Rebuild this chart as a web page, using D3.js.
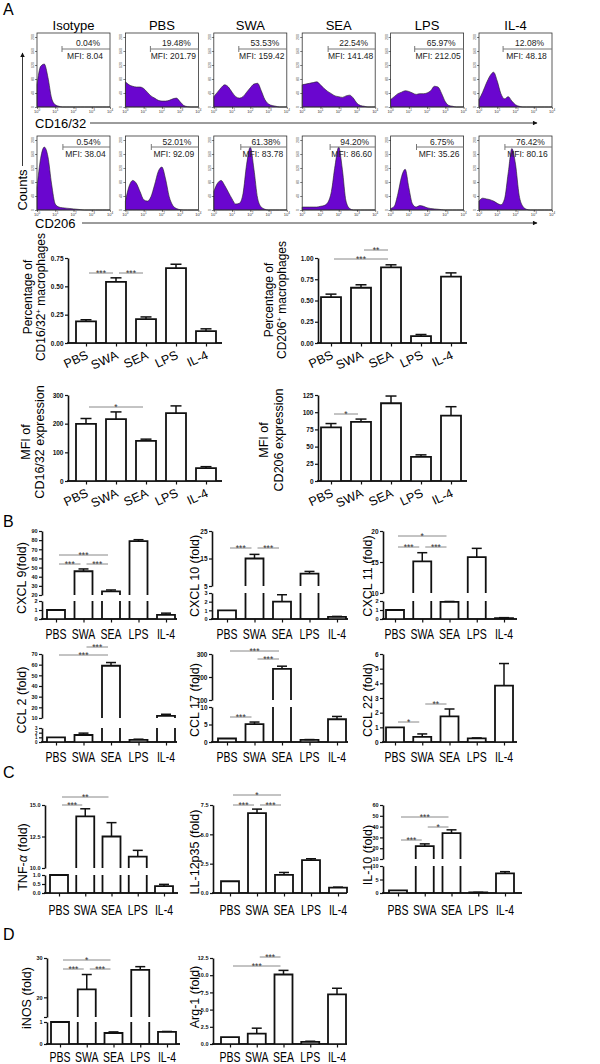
<!DOCTYPE html>
<html><head><meta charset="utf-8">
<script src="https://cdn.jsdelivr.net/npm/d3@7/dist/d3.min.js"></script>
<style>
html,body{margin:0;padding:0;background:#fff}
svg{display:block}
</style></head>
<body>
<svg id="fig" width="600" height="1064"></svg>
<script>
// ================= DATA =================
const groups = ["PBS","SWA","SEA","LPS","IL-4"];
const flowTitles = ["Isotype","PBS","SWA","SEA","LPS","IL-4"];
const cd16Gate = ["0.04%","19.48%","53.53%","22.54%","65.97%","12.08%"];
const cd16MFI  = ["MFI: 8.04","MFI: 201.79","MFI: 159.42","MFI: 141.48","MFI: 212.05","MFI: 48.18"];
const cd206Gate = ["0.54%","52.01%","61.38%","94.20%","6.75%","76.42%"];
const cd206MFI  = ["MFI: 38.04","MFI: 92.09","MFI: 83.78","MFI: 86.60","MFI: 35.26","MFI: 80.16"];
const cd16GateLog  = [1.37,1.37,1.37,1.42,1.32,1.32];
const cd206GateLog = [1.42,1.42,1.48,1.53,1.42,1.42];
const histLogX = [0,0.2,0.4,0.6,0.8,1.0,1.2,1.4,1.6,1.8,2.0,2.2,2.4,2.6,2.8,3.0,3.2,3.4,3.6,3.8,4.0];
const histTickLabels = ["0","1","2","3","4"];
const histYTicks = ["0","40","80","120","160","200"];
const cd16Hist = [
  [0.30,0.55,0.58,0.40,0.12,0.03,0.01,0,0,0,0,0,0,0,0,0,0,0,0,0,0],
  [0.34,0.30,0.28,0.27,0.27,0.25,0.20,0.15,0.12,0.09,0.08,0.08,0.09,0.11,0.12,0.07,0.02,0.005,0,0,0],
  [0.14,0.20,0.26,0.30,0.27,0.20,0.14,0.12,0.14,0.20,0.26,0.31,0.32,0.22,0.10,0.04,0.02,0.01,0,0,0],
  [0.30,0.31,0.32,0.33,0.34,0.30,0.25,0.21,0.18,0.15,0.14,0.13,0.15,0.16,0.12,0.05,0.02,0.01,0,0,0],
  [0.10,0.14,0.18,0.20,0.22,0.21,0.19,0.17,0.18,0.18,0.19,0.22,0.28,0.27,0.18,0.07,0.02,0.01,0,0,0],
  [0.10,0.20,0.32,0.42,0.47,0.35,0.18,0.11,0.14,0.08,0.03,0.01,0,0,0,0,0,0,0,0,0]
];
const cd206Hist = [
  [0.30,0.70,0.85,0.72,0.35,0.08,0.04,0.03,0.025,0.02,0.015,0.01,0.005,0,0,0,0,0,0,0,0],
  [0.12,0.32,0.40,0.36,0.25,0.14,0.12,0.18,0.34,0.52,0.58,0.42,0.18,0.06,0.02,0.005,0,0,0,0,0],
  [0.25,0.36,0.40,0.33,0.24,0.15,0.08,0.09,0.22,0.62,0.85,0.55,0.16,0.04,0.01,0,0,0,0,0,0],
  [0.04,0.04,0.04,0.04,0.04,0.05,0.06,0.10,0.25,0.60,0.85,0.55,0.12,0.02,0,0,0,0,0,0,0],
  [0.02,0.05,0.22,0.45,0.55,0.30,0.08,0.04,0.06,0.05,0.03,0.02,0.015,0.01,0.005,0,0,0,0,0,0],
  [0.12,0.16,0.15,0.14,0.12,0.09,0.07,0.15,0.50,0.83,0.62,0.20,0.05,0.01,0,0,0,0,0,0,0]
];

const cd16PctVal = [0.19,0.54,0.21,0.66,0.105], cd16PctErr = [0.015,0.035,0.02,0.035,0.02];
const cd206PctVal = [0.54,0.65,0.89,0.08,0.78], cd206PctErr = [0.035,0.035,0.03,0.02,0.045];
const cd16MfiVal = [199,216,140,237,45], cd16MfiErr = [19,25,6,25,5];
const cd206MfiVal = [78,86,113,35,95], cd206MfiErr = [5.5,4,10.5,3,13];
const cxcl9Val = [1,46,24,79,0.45], cxcl9Err = [0,2.5,1.5,1.5,0.2];
const cxcl10Val = [1,15,2.0,9.5,0.25], cxcl10Err = [0,1.5,0.8,0.8,0.05];
const cxcl11Val = [1,15.1,1.9,15.8,0.1], cxcl11Err = [0,1.4,0.05,1.4,0.05];
const ccl2Val = [1,1.5,59,0.45,12], ccl2Err = [0,0.4,3,0.15,1.5];
const ccl17Val = [1,5.1,235,0.6,6.5], ccl17Err = [0,0.6,12,0.1,0.8];
const ccl22Val = [1,0.35,1.75,0.25,3.85], ccl22Err = [0,0.2,0.5,0.03,1.5];
const tnfVal = [1,14.1,12.5,10.9,0.38], tnfErr = [0,0.6,1.1,0.5,0.1];
const il12Val = [1,6.8,1.55,2.8,0.45], il12Err = [0,0.35,0.2,0.12,0.05];
const il10Val = [1,22,34,0.2,7.3], il10Err = [0,2,3,0.05,0.6];
const inosVal = [1,22,0.5,27,0.55], inosErr = [0,3.8,0.05,0.8,0.02];
const arg1Val = [1,1.5,10.1,0.3,7.2], arg1Err = [0,0.8,0.6,0.1,0.9];

// significance brackets: [groupA, groupB, label]
const sigCd16Pct = [[0,1,"***"],[1,2,"***"]];
const sigCd206Pct = [[0,2,"***"],[1,2,"**"]];
const sigCd16Mfi = [[0,2,"*"]];
const sigCd206Mfi = [[0,1,"*"]];
const sigCxcl9 = [[0,2,"***"],[0,1,"***"],[1,2,"***"]];
const sigCxcl10 = [[0,1,"***"],[1,2,"***"]];
const sigCxcl11 = [[0,2,"*"],[0,1,"***"],[1,2,"***"]];
const sigCcl2 = [[0,2,"***"],[1,2,"***"]];
const sigCcl17 = [[0,2,"***"],[1,2,"***"],[0,1,"***"]];
const sigCcl22 = [[0,1,"*"],[1,2,"**"]];
const sigTnf = [[0,1,"***"],[0,2,"**"]];
const sigIl12 = [[0,2,"*"],[0,1,"***"],[1,2,"***"]];
const sigIl10 = [[0,2,"***"],[1,2,"*"],[0,1,"***"]];
const sigInos = [[0,2,"*"],[0,1,"***"],[1,2,"***"]];
const sigArg1 = [[0,2,"***"],[1,2,"***"]];

// ================= DRAW =================
const FONT = "'Liberation Sans', Arial, Helvetica, sans-serif";
const svg = d3.select("#fig").attr("font-family", FONT);
const PURPLE = "#6a06cf";

function squeeze(sel, k) {
  sel.each(function(){
    const L = this.getComputedTextLength();
    d3.select(this).attr("textLength", L*k).attr("lengthAdjust","spacingAndGlyphs");
  });
}

// panel letters
[["A",3,15],["B",3,527],["C",3,778],["D",3,940]].forEach(([t,x,y]) =>
  svg.append("text").attr("x",x).attr("y",y).attr("font-size",16).text(t));

// ---------- Panel A flow histograms ----------
const flowX = d3.scalePoint().domain(flowTitles).range([37, 479]);
const boxW = 73, boxH = 74;
const rows = [
  {top:33, hist:cd16Hist, gate:cd16Gate, mfi:cd16MFI, gl:cd16GateLog, gy:49, py:46, my:59},
  {top:136, hist:cd206Hist, gate:cd206Gate, mfi:cd206MFI, gl:cd206GateLog, gy:147, py:145, my:157}
];
flowTitles.forEach(t => svg.append("text").attr("x", flowX(t)+boxW/2).attr("y", 30)
  .attr("text-anchor","middle").attr("font-size",13).text(t));

rows.forEach(r => {
  flowTitles.forEach((t,i) => {
    const L = flowX(t), g = svg.append("g");
    const xs = d3.scaleLinear().domain([0,4]).range([L, L+boxW]);
    const ys = d3.scaleLinear().domain([0,1]).range([r.top+boxH, r.top]);
    const pts = histLogX.map((lx,k) => [lx, r.hist[i][k]]);
    g.append("path").datum(pts)
      .attr("d", d3.area().x(d=>xs(d[0])).y0(ys(0)).y1(d=>ys(d[1])).curve(d3.curveMonotoneX))
      .attr("fill", PURPLE).attr("stroke","#222").attr("stroke-width",0.6);
    g.append("rect").attr("x",L).attr("y",r.top).attr("width",boxW).attr("height",boxH)
      .attr("fill","none").attr("stroke","#333").attr("stroke-width",0.8);
    g.append("g").attr("transform",`translate(0,${r.top+boxH})`)
      .call(d3.axisBottom(xs).tickValues([0,1,2,3,4]).tickSize(2).tickFormat(""))
      .call(a=>a.select(".domain").remove()).selectAll("line").attr("stroke-width",0.5);
    histTickLabels.forEach((d,k) => {
      const tx = g.append("text").attr("x", xs(k)).attr("y", r.top+boxH+5.5)
        .attr("text-anchor","middle").attr("font-size",4).attr("fill","#333").text("10");
      tx.append("tspan").attr("dy",-1.5).attr("font-size",3).text(d);
    });
    const yt = d3.scaleLinear().domain([0,5]).range([r.top+boxH, r.top+4]);
    g.append("g").attr("transform",`translate(${L},0)`)
      .call(d3.axisLeft(yt).tickValues([0,1,2,3,4,5]).tickSize(2).tickFormat(""))
      .call(a=>a.select(".domain").remove()).selectAll("line").attr("stroke-width",0.5);
    histYTicks.forEach((d,k) => g.append("text")
      .attr("transform",`translate(${L-3},${yt(k)}) rotate(-90)`)
      .attr("text-anchor","middle").attr("font-size",3.5).attr("fill","#444").text(d));
    const gx = xs(r.gl[i]), gr = L+boxW;
    g.append("line").attr("x1",gx).attr("x2",gr).attr("y1",r.gy).attr("y2",r.gy)
      .attr("stroke","#777").attr("stroke-width",1);
    g.append("line").attr("x1",gx).attr("x2",gx).attr("y1",r.gy-3).attr("y2",r.gy+3)
      .attr("stroke","#777").attr("stroke-width",1);
    g.append("text").attr("x",(gx+gr)/2+2).attr("y",r.py).attr("text-anchor","middle")
      .attr("font-size",8.5).attr("fill","#222").text(r.gate[i]);
    g.append("text").attr("x",(gx+gr)/2-1).attr("y",r.my).attr("text-anchor","middle")
      .attr("font-size",8.5).attr("fill","#222").text(r.mfi[i]);
  });
});
const defs = svg.append("defs");
defs.append("marker").attr("id","arr").attr("viewBox","0 0 10 10").attr("refX",9).attr("refY",5)
  .attr("markerWidth",7).attr("markerHeight",5).attr("orient","auto")
  .append("path").attr("d","M0,0L10,5L0,10z").attr("fill","#111");
svg.append("text").attr("x",35).attr("y",128).attr("font-size",13).text("CD16/32");
svg.append("line").attr("x1",90).attr("x2",537).attr("y1",123).attr("y2",123)
  .attr("stroke","#222").attr("stroke-width",0.9).attr("marker-end","url(#arr)");
svg.append("text").attr("x",35).attr("y",228).attr("font-size",13).text("CD206");
svg.append("line").attr("x1",82).attr("x2",537).attr("y1",223).attr("y2",223)
  .attr("stroke","#222").attr("stroke-width",0.9).attr("marker-end","url(#arr)");
svg.append("text").attr("transform","translate(27,190) rotate(-90)").attr("text-anchor","middle")
  .attr("font-size",13).text("Counts");
svg.append("line").attr("x1",22.5).attr("x2",22.5).attr("y1",166).attr("y2",53)
  .attr("stroke","#222").attr("stroke-width",0.9).attr("marker-end","url(#arr)");

// ---------- generic bar chart ----------
function barChart(c) {
  const g = svg.append("g");
  const x = d3.scalePoint().domain(groups).range([c.c0, c.c1]);
  const segs = c.segs.map(s => Object.assign({}, s, {y: d3.scaleLinear().domain(s.dom).range(s.rng)}));
  const yOf = v => {
    for (let k = segs.length-1; k >= 0; k--) {
      if (k === 0 || v >= segs[k].dom[0]) return segs[k].y(Math.min(v, segs[k].dom[1]));
    }
  };
  const base = segs[0].rng[0];
  segs.forEach(s => {
    const fmt = s.fmt ? d3.format(s.fmt) : d3.format("d");
    const ax = g.append("g").attr("transform",`translate(${c.x0},0)`)
      .call(d3.axisLeft(s.y).tickValues(s.ticks).tickSize(3).tickSizeOuter(0)
        .tickPadding(1.5).tickFormat(d => (s.hide && s.hide.includes(d)) ? "" : fmt(d)));
    ax.select(".domain").attr("stroke","#111").attr("stroke-width",1.6);
    ax.selectAll(".tick line").attr("stroke","#111").attr("stroke-width",1.2);
    ax.selectAll("text").attr("font-size",s.fs||6.5).attr("font-weight","bold").attr("font-family",FONT).attr("fill","#111");
  });
  g.append("line").attr("x1",c.x0-0.8).attr("x2",c.x1).attr("y1",base).attr("y2",base)
    .attr("stroke","#111").attr("stroke-width",1.6);
  const xa = g.append("g").attr("transform",`translate(0,${base})`)
    .call(d3.axisBottom(x).tickSize(3.5).tickSizeOuter(0).tickFormat(""));
  xa.select(".domain").remove();
  xa.selectAll("line").attr("stroke","#111").attr("stroke-width",1.2);
  const bw = c.barW, hw = bw/2;
  groups.forEach((gname,i) => {
    const v = c.values[i], cx = x(gname);
    segs.forEach((s,k) => {
      if (k > 0 && v <= s.dom[0]) return;
      const b = s.rng[0];
      const top = s.y(Math.min(v, s.dom[1]));
      const closed = v <= s.dom[1];
      const d = closed
        ? `M${cx-hw},${b}V${top}H${cx+hw}V${b}`
        : `M${cx-hw},${b}V${top}M${cx+hw},${top}V${b}`;
      g.append("path").attr("d",d).attr("fill",closed?"#fff":"none")
        .attr("stroke","#111").attr("stroke-width",1.8);
    });
    const e = c.errs[i];
    if (e > 0) {
      const y1 = yOf(v), y2 = yOf(v+e);
      g.append("line").attr("x1",cx).attr("x2",cx).attr("y1",y1).attr("y2",y2)
        .attr("stroke","#111").attr("stroke-width",1.5);
      g.append("line").attr("x1",cx-c.capW/2).attr("x2",cx+c.capW/2).attr("y1",y2).attr("y2",y2)
        .attr("stroke","#111").attr("stroke-width",1.5);
    }
  });
  g.append("line").attr("x1",c.x0-0.8).attr("x2",c.x1).attr("y1",base).attr("y2",base)
    .attr("stroke","#111").attr("stroke-width",1.6);
  c.sigs.forEach((s,k) => {
    const xa1 = x(groups[s[0]]) + 3, xb = x(groups[s[1]]) - 3, ly = c.sigY[k];
    g.append("line").attr("x1",xa1).attr("x2",xb).attr("y1",ly).attr("y2",ly)
      .attr("stroke","#888").attr("stroke-width",1);
    g.append("text").attr("x",(xa1+xb)/2).attr("y",ly+3).attr("text-anchor","middle")
      .attr("font-size",8.5).attr("fill","#333").text(s[2]);
  });
  groups.forEach(gname => {
    if (c.rot) {
      g.append("text").attr("transform",`translate(${x(gname)+3},${base+15}) rotate(-25)`)
        .attr("text-anchor","end").attr("font-size",12.5).text(gname);
    } else {
      const t = g.append("text").attr("x",x(gname)).attr("y",base+(c.ly||20)).attr("text-anchor","middle")
        .attr("font-size",14).text(gname);
      squeeze(t, 0.75);
    }
  });
  c.title.forEach((line,k) => {
    const t = g.append("text").attr("transform",`translate(${c.tx[k]},${c.ty}) rotate(-90)`)
      .attr("text-anchor","middle").attr("font-size",c.tfs||12.5);
    line.forEach(part => {
      const sp = t.append("tspan").text(part.t);
      if (part.sup) sp.attr("baseline-shift","super").attr("font-size",8);
      if (part.it) sp.attr("font-style","italic");
    });
  });
}
const T = s => [{t:s}];

// A charts
barChart({x0:68,x1:222,c0:86,c1:206,barW:20,capW:11,rot:true,
  segs:[{dom:[0,0.75],rng:[343,258],ticks:[0,0.25,0.5,0.75],fmt:".2f"}],
  values:cd16PctVal,errs:cd16PctErr,sigs:sigCd16Pct,sigY:[273,273],
  title:[T("Percentage of"),[{t:"CD16/32"},{t:"+",sup:true},{t:" macrophages"}]],tx:[32,45],ty:297,tfs:12});
barChart({x0:318,x1:467,c0:331,c1:451,barW:20,capW:11,rot:true,
  segs:[{dom:[0,1],rng:[343,258],ticks:[0,0.25,0.5,0.75,1],fmt:".2f"}],
  values:cd206PctVal,errs:cd206PctErr,sigs:sigCd206Pct,sigY:[259,250],
  title:[T("Percentage of"),[{t:"CD206"},{t:"+",sup:true},{t:" macrophages"}]],tx:[273,286],ty:300,tfs:12});
barChart({x0:68,x1:222,c0:86,c1:206,barW:20,capW:11,rot:true,
  segs:[{dom:[0,300],rng:[481,395],ticks:[0,100,200,300]}],
  values:cd16MfiVal,errs:cd16MfiErr,sigs:sigCd16Mfi,sigY:[407],
  title:[T("MFI of"),T("CD16/32 expression")],tx:[30,44],ty:442,tfs:12.5});
barChart({x0:318,x1:467,c0:331,c1:451,barW:20,capW:11,rot:true,
  segs:[{dom:[0,125],rng:[481,395],ticks:[0,25,50,75,100,125]}],
  values:cd206MfiVal,errs:cd206MfiErr,sigs:sigCd206Mfi,sigY:[414],
  title:[T("MFI of"),T("CD206 expression")],tx:[268,283],ty:440,tfs:12.5});

// B charts
barChart({x0:42,x1:177,c0:56,c1:166,barW:18,capW:10,
  segs:[{dom:[0,2],rng:[619,601],ticks:[0,1,2],fs:5.5},{dom:[20,90],rng:[595,531],ticks:[20,30,40,50,60,70,80,90],fs:5.5}],
  values:cxcl9Val,errs:cxcl9Err,sigs:sigCxcl9,sigY:[555,564,564],title:[T("CXCL 9(fold)")],tx:[26],ty:578});
barChart({x0:212,x1:348,c0:227,c1:337,barW:18,capW:10,
  segs:[{dom:[0,3],rng:[619,593],ticks:[0,1,2,3],fs:5.5},{dom:[5,25],rng:[586,531],ticks:[5,15,25]}],
  values:cxcl10Val,errs:cxcl10Err,sigs:sigCxcl10,sigY:[548,548],title:[T("CXCL 10 (fold)")],tx:[199],ty:576});
barChart({x0:383,x1:517,c0:395,c1:504,barW:18,capW:10,
  segs:[{dom:[0,2],rng:[619,601],ticks:[0,1,2],fs:5.5},{dom:[10,20],rng:[593,531],ticks:[10,15,20]}],
  values:cxcl11Val,errs:cxcl11Err,sigs:sigCxcl11,sigY:[536,547,547],title:[T("CXCL 11 (fold)")],tx:[372],ty:576});
barChart({x0:42,x1:177,c0:56,c1:166,barW:18,capW:10,
  segs:[{dom:[0,3],rng:[742,728],ticks:[0,1,2,3],fs:4.5},{dom:[10,70],rng:[718,654],ticks:[10,20,30,40,50,60,70],fs:5.5}],
  values:ccl2Val,errs:ccl2Err,sigs:sigCcl2,sigY:[655,647],title:[T("CCL 2 (fold)")],tx:[26],ty:700});
barChart({x0:212,x1:348,c0:227,c1:337,barW:18,capW:10,
  segs:[{dom:[0,10],rng:[742,707],ticks:[0,5,10]},{dom:[100,300],rng:[700,654],ticks:[100,200,300]}],
  values:ccl17Val,errs:ccl17Err,sigs:sigCcl17,sigY:[651,659,717],title:[T("CCL 17 (fold)")],tx:[199],ty:700});
barChart({x0:383,x1:517,c0:395,c1:504,barW:18,capW:10,
  segs:[{dom:[0,6],rng:[742,654],ticks:[0,1,2,3,4,5,6]}],
  values:ccl22Val,errs:ccl22Err,sigs:sigCcl22,sigY:[722,704],title:[T("CCL 22 (fold)")],tx:[372],ty:700});

// C charts
barChart({x0:45,x1:178,c0:59,c1:164,barW:18,capW:10,ly:22,
  segs:[{dom:[0,1],rng:[893,875],ticks:[0,0.5,1],fmt:".1f",fs:5.5},{dom:[10,15],rng:[868,805],ticks:[10,12.5,15],fmt:".1f",fs:5.5}],
  values:tnfVal,errs:tnfErr,sigs:sigTnf,sigY:[805,797],title:[[{t:"TNF-"},{t:"α",it:true},{t:" (fold)"}]],tx:[27],ty:857});
barChart({x0:213,x1:347,c0:230,c1:338,barW:18,capW:10,ly:22,
  segs:[{dom:[0,7.5],rng:[893,805],ticks:[0,2.5,5,7.5],fmt:".1f",fs:5.5}],
  values:il12Val,errs:il12Err,sigs:sigIl12,sigY:[795,805,805],title:[T("LL-12p35 (fold)")],tx:[199],ty:852});
barChart({x0:383,x1:522,c0:398,c1:505,barW:18,capW:10,ly:22,
  segs:[{dom:[0,10],rng:[893,866],ticks:[0,5,10],fs:5.5},{dom:[10,60],rng:[859,805],ticks:[10,20,30,40,50,60],fs:5.5}],
  values:il10Val,errs:il10Err,sigs:sigIl10,sigY:[817,827,840],title:[T("IL-10 (fold)")],tx:[372],ty:855});

// D charts
barChart({x0:47,x1:180,c0:60,c1:167,barW:18,capW:10,ly:18,
  segs:[{dom:[0,1],rng:[1044,1022],ticks:[0,1],fs:5.5},{dom:[15,30],rng:[1017,958],ticks:[15,20,30],hide:[15],fs:5.5}],
  values:inosVal,errs:inosErr,sigs:sigInos,sigY:[960,969,969],title:[T("iNOS (fold)")],tx:[31],ty:998});
barChart({x0:213,x1:347,c0:230,c1:337,barW:18,capW:10,ly:18,
  segs:[{dom:[0,12.5],rng:[1044,958],ticks:[0,2.5,5,7.5,10,12.5],fmt:".1f",fs:5.5}],
  values:arg1Val,errs:arg1Err,sigs:sigArg1,sigY:[966,957],title:[T("Arg-1 (fold)")],tx:[199],ty:997});
</script>
</body></html>
